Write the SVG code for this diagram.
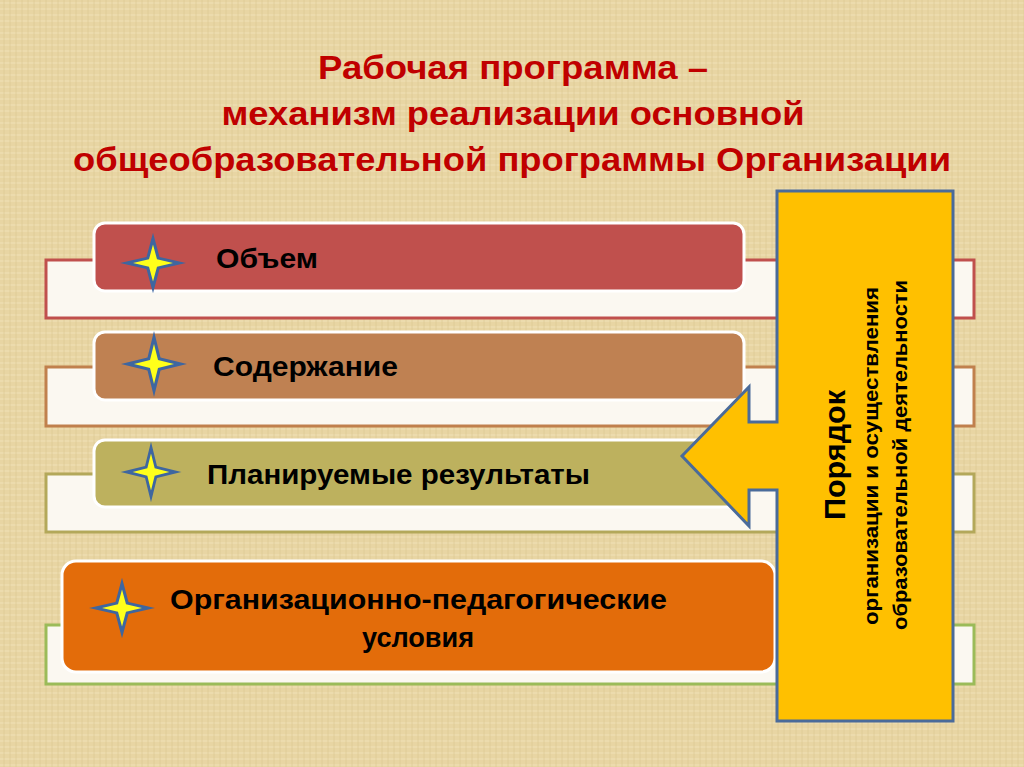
<svg xmlns="http://www.w3.org/2000/svg" width="1024" height="767" viewBox="0 0 1024 767">
<defs>
<pattern id="linen" width="12" height="12" patternUnits="userSpaceOnUse">
<rect width="12" height="12" fill="#e8d5a3"/>
<path d="M0 3H12M0 9H12" stroke="#f3e6c0" stroke-width="1.2" opacity="0.7"/>
<path d="M4 0V12M10 0V12" stroke="#d8c48e" stroke-width="1" opacity="0.6"/>
</pattern>
<g id="star">
<path d="M0,-33 L6.5,-6.5 L33,0 L6.5,6.5 L0,33 L-6.5,6.5 L-33,0 L-6.5,-6.5 Z" fill="#3e66a0"/>
<path d="M0,-20 L4,-4 L20,0 L4,4 L0,20 L-4,4 L-20,0 L-4,-4 Z" fill="#ffff1a"/>
</g>
</defs>
<style>
.title{font-family:"Liberation Sans",Arial,sans-serif;font-weight:bold;font-size:33px;fill:#c00000;text-anchor:middle}
.lbl{font-family:"Liberation Sans",Arial,sans-serif;font-weight:bold;font-size:27px;fill:#000}
.strip{fill:#fbf8f1;stroke-width:3}
.front{stroke:#ffffff;stroke-width:3}
.vt{font-family:"Liberation Sans",Arial,sans-serif;font-weight:bold;fill:#000;text-anchor:middle}
</style>
<rect width="1024" height="767" fill="url(#linen)"/>
<g id="title">
<text class="title" x="513" y="79" textLength="390" lengthAdjust="spacingAndGlyphs">Рабочая программа –</text>
<text class="title" x="513" y="125" textLength="583" lengthAdjust="spacingAndGlyphs">механизм реализации основной</text>
<text class="title" x="512" y="171" textLength="878" lengthAdjust="spacingAndGlyphs">общеобразовательной программы Организации</text>
</g>
<g id="row1">
<rect class="strip" x="46" y="260" width="928" height="58" stroke="#c0504d"/>
<rect class="front" x="94" y="223" width="650" height="68" rx="11" fill="#c0504d"/>
<use href="#star" transform="translate(153,263) scale(1,0.92)"/>
<text class="lbl" x="216" y="268" textLength="102" lengthAdjust="spacingAndGlyphs">Объем</text>
</g>
<g id="row2">
<rect class="strip" x="46" y="367" width="928" height="59" stroke="#c0804d"/>
<rect class="front" x="94" y="332" width="650" height="68" rx="11" fill="#bf8152"/>
<use href="#star" transform="translate(154,364)"/>
<text class="lbl" x="213" y="376" textLength="185" lengthAdjust="spacingAndGlyphs">Содержание</text>
</g>
<g id="row3">
<rect class="strip" x="46" y="474" width="928" height="58" stroke="#b3a85a"/>
<rect class="front" x="94" y="440" width="650" height="67" rx="11" fill="#bdb15e"/>
<use href="#star" transform="translate(151,472) scale(0.92,0.92)"/>
<text class="lbl" x="207" y="484" textLength="383" lengthAdjust="spacingAndGlyphs">Планируемые результаты</text>
</g>
<g id="row4">
<rect class="strip" x="46" y="625" width="928" height="59" stroke="#9bbb59"/>
<rect class="front" x="62" y="561" width="713" height="111" rx="14" fill="#e36c0a"/>
<use href="#star" transform="translate(122,608) scale(1,0.92)"/>
<text class="lbl" x="170" y="609" textLength="497" lengthAdjust="spacingAndGlyphs">Организационно-педагогические</text>
<text class="lbl" x="362" y="647" textLength="112" lengthAdjust="spacingAndGlyphs">условия</text>
</g>
<g id="connectors">
<path id="order-arrow" d="M777,191 H953 V721 H777 V490 H749 V526 L682,456 L749,387 V422 H777 Z" fill="#ffc000" stroke="#4a6b9a" stroke-width="3" stroke-linejoin="miter"/>
</g>
<g id="order">
<text class="vt" font-size="29" transform="translate(845,455) rotate(-90)" textLength="130" lengthAdjust="spacingAndGlyphs">Порядок</text>
<text class="vt" font-size="21" transform="translate(878,456) rotate(-90)" textLength="338" lengthAdjust="spacingAndGlyphs">организации и осуществления</text>
<text class="vt" font-size="21" transform="translate(907,455) rotate(-90)" textLength="350" lengthAdjust="spacingAndGlyphs">образовательной деятельности</text>
</g>
</svg>
